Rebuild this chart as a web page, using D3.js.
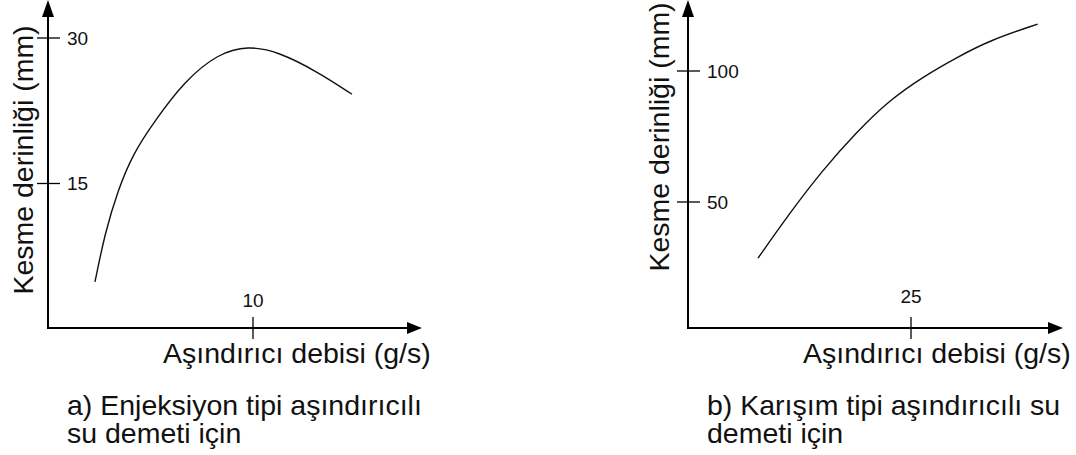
<!DOCTYPE html>
<html>
<head>
<meta charset="utf-8">
<script src="https://cdn.jsdelivr.net/npm/d3@7"></script>
<style>
  body { margin: 0; background: #fff; }
  svg { display: block; font-family: "Liberation Sans", Arial, sans-serif; }
</style>
</head>
<body>
<svg id="chart" width="1076" height="455"></svg>
<script>
// data
const flowA = [2.29, 2.78, 3.41, 4.15, 5.22, 6.68, 8.29, 9.76, 11.22, 13.17, 14.83];
const depthA = [4.85, 9.9, 14.3, 18.1, 21.5, 25.6, 28.4, 29.2, 28.6, 26.5, 24.2];
const yTicksA = [15, 30];
const xTicksA = [10];

const flowB = [7.85, 11.4, 15.1, 18.9, 22.6, 26.3, 30.2, 33.9, 39.2];
const depthB = [28.6, 45.8, 62.2, 76.7, 88.9, 97.7, 105.3, 111.8, 117.9];
const yTicksB = [50, 100];
const xTicksB = [25];

const yTitle = "Kesme derinliği (mm)";
const xTitle = "Aşındırıcı debisi (g/s)";
const captionA = ["a) Enjeksiyon tipi aşındırıcılı", "su demeti için"];
const captionB = ["b) Karışım tipi aşındırıcılı su", "demeti için"];

const svg = d3.select("#chart");

// panel layout {{{ //
const panels = [
  { ox: 48, axisY: 328, xEnd: 422, pxPerX: 20.5, yRange: [329, 38], yMax: 30,
    flow: flowA, depth: depthA, yTicks: yTicksA, xTicks: xTicksA, caption: captionA,
    yTitleX: 33, yTitleY: 160, xTitleX: 163, tickLabelY: 307, capX: 67 },
  { ox: 688, axisY: 328, xEnd: 1063, pxPerX: 8.92, yRange: [333, 71], yMax: 100,
    flow: flowB, depth: depthB, yTicks: yTicksB, xTicks: xTicksB, caption: captionB,
    yTitleX: 669, yTitleY: 137, xTitleX: 803, tickLabelY: 303, capX: 707 }
];
// }}} panel layout //

panels.forEach(function(p) {
  const g = svg.append("g");
  const xMaxData = (p.xEnd - p.ox) / p.pxPerX;
  const x = d3.scaleLinear().domain([0, xMaxData]).range([p.ox, p.xEnd]);
  const y = d3.scaleLinear().domain([0, p.yMax]).range(p.yRange);

  // axes with arrow heads
  g.append("line")
    .attr("x1", p.ox).attr("y1", p.axisY).attr("x2", p.ox).attr("y2", 12)
    .attr("stroke", "#000").attr("stroke-width", 2);
  g.append("path")
    .attr("d", `M${p.ox},0 L${p.ox - 6},17 L${p.ox + 6},17 Z`)
    .attr("fill", "#000");
  g.append("line")
    .attr("x1", p.ox - 1).attr("y1", p.axisY).attr("x2", p.xEnd - 10).attr("y2", p.axisY)
    .attr("stroke", "#000").attr("stroke-width", 2);
  g.append("path")
    .attr("d", `M${p.xEnd},${p.axisY} L${p.xEnd - 15},${p.axisY - 6} L${p.xEnd - 15},${p.axisY + 6} Z`)
    .attr("fill", "#000");

  // y ticks
  g.selectAll(".yt").data(p.yTicks).enter().append("line")
    .attr("x1", p.ox - 11).attr("x2", p.ox + 12)
    .attr("y1", d => y(d)).attr("y2", d => y(d))
    .attr("stroke", "#000").attr("stroke-width", 1.3);
  g.selectAll(".yl").data(p.yTicks).enter().append("text")
    .attr("x", p.ox + 19).attr("y", d => y(d)).attr("dy", "0.36em")
    .attr("font-size", 19).attr("fill", "#111")
    .text(d => d);

  // x ticks
  g.selectAll(".xt").data(p.xTicks).enter().append("line")
    .attr("x1", d => x(d)).attr("x2", d => x(d))
    .attr("y1", p.axisY - 11).attr("y2", p.axisY + 11)
    .attr("stroke", "#000").attr("stroke-width", 1.3);
  g.selectAll(".xl").data(p.xTicks).enter().append("text")
    .attr("x", d => x(d)).attr("y", p.tickLabelY)
    .attr("text-anchor", "middle")
    .attr("font-size", 19).attr("fill", "#111")
    .text(d => d);

  // curve (b-spline keeps it smooth like the hand drawn original)
  const pts = p.flow.map((f, i) => [f, p.depth[i]]);
  g.append("path")
    .datum(pts)
    .attr("fill", "none")
    .attr("stroke", "#111")
    .attr("stroke-width", 1.4)
    .attr("d", d3.line().x(d => x(d[0])).y(d => y(d[1])).curve(d3.curveBasis));

  // titles
  g.append("text")
    .attr("transform", `translate(${p.yTitleX},${p.yTitleY}) rotate(-90)`)
    .attr("text-anchor", "middle")
    .attr("font-size", 28.5).attr("fill", "#111")
    .text(yTitle);
  g.append("text")
    .attr("x", p.xTitleX).attr("y", 363)
    .attr("font-size", 28.5).attr("fill", "#111")
    .text(xTitle);

  g.selectAll(".cap").data(p.caption).enter().append("text")
    .attr("x", p.capX).attr("y", (d, i) => 415 + i * 28)
    .attr("font-size", 28.5).attr("fill", "#111")
    .text(d => d);
});
</script>
</body>
</html>
